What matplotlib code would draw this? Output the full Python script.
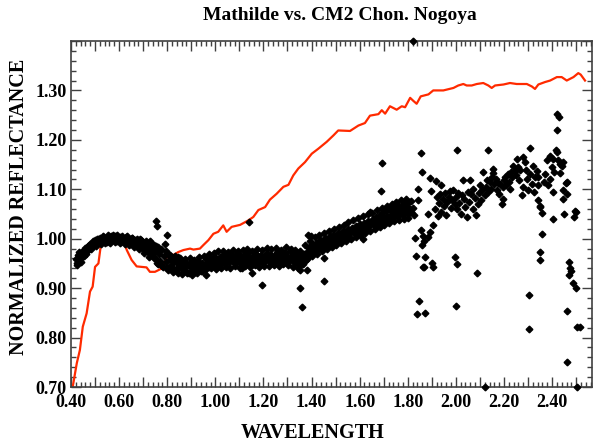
"""Mathilde vs. CM2 chondrite Nogoya -- normalized reflectance spectra."""

import matplotlib

matplotlib.use("Agg")
import matplotlib.pyplot as plt
from matplotlib.ticker import MultipleLocator

# Nogoya (CM2 chondrite) lab spectrum, red line
nogoya_wl = [
    0.407, 0.424, 0.437, 0.449, 0.465, 0.479, 0.490, 0.500, 0.514, 0.523,
    0.541, 0.569, 0.597, 0.617, 0.632, 0.652, 0.673, 0.714, 0.728, 0.749,
    0.770, 0.784, 0.798, 0.825, 0.846, 0.867, 0.895, 0.909, 0.936, 0.950,
    0.971, 0.992, 1.012, 1.033, 1.047, 1.068, 1.103, 1.137, 1.158, 1.179,
    1.207, 1.227, 1.255, 1.283, 1.304, 1.324, 1.345, 1.373, 1.401, 1.428,
    1.463, 1.491, 1.511, 1.560, 1.595, 1.622, 1.643, 1.678, 1.692, 1.706,
    1.726, 1.754, 1.775, 1.789, 1.810, 1.823, 1.837, 1.854, 1.886, 1.906,
    1.948, 1.990, 2.010, 2.031, 2.045, 2.066, 2.087, 2.114, 2.135, 2.149,
    2.163, 2.198, 2.225, 2.253, 2.295, 2.316, 2.329, 2.343, 2.371, 2.392,
    2.420, 2.440, 2.461, 2.489, 2.509, 2.519, 2.537,
]
nogoya_refl = [
    0.700, 0.748, 0.775, 0.822, 0.849, 0.893, 0.903, 0.943, 0.950, 0.983,
    0.994, 1.005, 1.000, 0.997, 0.977, 0.957, 0.944, 0.942, 0.933, 0.933,
    0.938, 0.946, 0.963, 0.967, 0.973, 0.977, 0.980, 0.978, 0.980, 0.987,
    0.997, 1.010, 1.014, 1.027, 1.014, 1.024, 1.028, 1.037, 1.044, 1.058,
    1.064, 1.079, 1.091, 1.105, 1.109, 1.128, 1.142, 1.155, 1.172, 1.182,
    1.196, 1.209, 1.219, 1.218, 1.229, 1.234, 1.249, 1.252, 1.260, 1.253,
    1.268, 1.261, 1.268, 1.266, 1.285, 1.279, 1.273, 1.288, 1.292, 1.300,
    1.300, 1.305, 1.310, 1.313, 1.310, 1.310, 1.313, 1.315, 1.310, 1.305,
    1.310, 1.312, 1.315, 1.313, 1.313, 1.308, 1.303, 1.312, 1.317, 1.320,
    1.327, 1.327, 1.320, 1.327, 1.335, 1.332, 1.320,
]

# Mathilde -- dense band 0.42-1.83 um
band_wl = [
    0.420, 0.425, 0.430, 0.435, 0.440, 0.445, 0.450, 0.455, 0.460, 0.465,
    0.470, 0.475, 0.480, 0.485, 0.490, 0.495, 0.500, 0.505, 0.510, 0.515,
    0.520, 0.525, 0.530, 0.535, 0.540, 0.545, 0.550, 0.555, 0.560, 0.565,
    0.570, 0.575, 0.580, 0.585, 0.590, 0.595, 0.600, 0.605, 0.610, 0.615,
    0.620, 0.625, 0.630, 0.635, 0.640, 0.645, 0.650, 0.655, 0.660, 0.665,
    0.670, 0.675, 0.680, 0.685, 0.690, 0.695, 0.700, 0.705, 0.710, 0.715,
    0.720, 0.725, 0.730, 0.735, 0.740, 0.745, 0.750, 0.755, 0.760, 0.765,
    0.770, 0.775, 0.780, 0.785, 0.790, 0.795, 0.800, 0.805, 0.810, 0.815,
    0.820, 0.825, 0.830, 0.835, 0.840, 0.845, 0.850, 0.855, 0.860, 0.865,
    0.870, 0.875, 0.880, 0.885, 0.890, 0.895, 0.900, 0.905, 0.910, 0.915,
    0.920, 0.925, 0.930, 0.935, 0.940, 0.945, 0.950, 0.955, 0.960, 0.965,
    0.970, 0.975, 0.980, 0.985, 0.990, 0.995, 1.000, 1.005, 1.010, 1.015,
    1.020, 1.025, 1.030, 1.035, 1.040, 1.045, 1.050, 1.055, 1.060, 1.065,
    1.070, 1.075, 1.080, 1.085, 1.090, 1.095, 1.100, 1.105, 1.110, 1.115,
    1.120, 1.125, 1.130, 1.135, 1.140, 1.145, 1.150, 1.155, 1.160, 1.165,
    1.170, 1.175, 1.180, 1.185, 1.190, 1.195, 1.200, 1.205, 1.210, 1.215,
    1.220, 1.225, 1.230, 1.235, 1.240, 1.245, 1.250, 1.255, 1.260, 1.265,
    1.270, 1.275, 1.280, 1.285, 1.290, 1.295, 1.300, 1.305, 1.310, 1.315,
    1.320, 1.325, 1.330, 1.335, 1.340, 1.345, 1.350, 1.355, 1.360, 1.365,
    1.370, 1.375, 1.380, 1.385, 1.390, 1.395, 1.400, 1.405, 1.410, 1.415,
    1.420, 1.425, 1.430, 1.435, 1.440, 1.445, 1.450, 1.455, 1.460, 1.465,
    1.470, 1.475, 1.480, 1.485, 1.490, 1.495, 1.500, 1.505, 1.510, 1.515,
    1.520, 1.525, 1.530, 1.535, 1.540, 1.545, 1.550, 1.555, 1.560, 1.565,
    1.570, 1.575, 1.580, 1.585, 1.590, 1.595, 1.600, 1.605, 1.610, 1.615,
    1.620, 1.625, 1.630, 1.635, 1.640, 1.645, 1.650, 1.655, 1.660, 1.665,
    1.670, 1.675, 1.680, 1.685, 1.690, 1.695, 1.700, 1.705, 1.710, 1.715,
    1.720, 1.725, 1.730, 1.735, 1.740, 1.745, 1.750, 1.755, 1.760, 1.765,
    1.770, 1.775, 1.780, 1.785, 1.790, 1.795, 1.800, 1.805, 1.810, 1.815,
    1.820, 1.825,
]
band_refl = [
    0.958, 0.950, 0.968, 0.955, 0.972, 0.962, 0.976, 0.966, 0.982, 0.975,
    0.986, 0.979, 0.990, 0.984, 0.994, 0.988, 0.997, 0.991, 0.999, 0.993,
    1.002, 0.995, 0.998, 1.004, 0.996, 1.001, 0.994, 1.003, 0.998, 1.005,
    0.997, 1.003, 0.999, 1.006, 0.995, 1.002, 0.998, 1.004, 0.996, 1.001,
    0.999, 0.993, 1.003, 0.996, 1.000, 0.991, 0.997, 1.002, 0.993, 0.998,
    0.989, 0.996, 0.985, 0.999, 0.990, 0.982, 0.994, 0.986, 0.977, 0.991,
    0.983, 0.972, 0.995, 0.979, 0.966, 0.988, 0.975, 0.958, 0.984, 0.969,
    0.955, 0.978, 0.945, 0.966, 0.990, 0.952, 0.940, 0.970, 0.958, 0.947,
    0.962, 0.941, 0.955, 0.936, 0.950, 0.963, 0.944, 0.957, 0.938, 0.949,
    0.942, 0.953, 0.935, 0.947, 0.931, 0.944, 0.952, 0.937, 0.946, 0.933,
    0.948, 0.938, 0.955, 0.942, 0.934, 0.951, 0.945, 0.939, 0.958, 0.947,
    0.953, 0.942, 0.960, 0.949, 0.956, 0.944, 0.962, 0.951, 0.958, 0.946,
    0.964, 0.953, 0.960, 0.970, 0.948, 0.957, 0.966, 0.952, 0.961, 0.969,
    0.955, 0.963, 0.950, 0.967, 0.958, 0.972, 0.953, 0.962, 0.947, 0.965,
    0.957, 0.968, 0.951, 0.963, 0.974, 0.956, 0.960, 0.949, 0.966, 0.958,
    0.970, 0.953, 0.962, 0.955, 0.967, 0.959, 0.950, 0.965, 0.957, 0.972,
    0.960, 0.954, 0.968, 0.962, 0.951, 0.966, 0.958, 0.973, 0.955, 0.963,
    0.969, 0.957, 0.962, 0.952, 0.971, 0.960, 0.966, 0.955, 0.975, 0.961,
    0.956, 0.968, 0.950, 0.963, 0.972, 0.958, 0.946, 0.965, 0.953, 0.960,
    0.970, 0.957, 0.965, 0.975, 0.982, 0.968, 0.990, 0.978, 0.985, 0.973,
    0.992, 0.980, 0.987, 0.998, 0.983, 0.994, 0.988, 1.002, 0.991, 0.985,
    0.997, 1.005, 0.990, 1.000, 1.008, 0.994, 1.003, 0.998, 1.011, 1.004,
    0.999, 1.009, 1.016, 1.003, 1.012, 1.007, 1.020, 1.010, 1.002, 1.015,
    1.022, 1.012, 1.018, 1.026, 1.008, 1.020, 1.030, 1.015, 1.024, 1.000,
    1.032, 1.020, 1.028, 1.036, 1.025, 1.054, 1.031, 1.040, 1.027, 1.035,
    1.043, 1.030, 1.038, 1.047, 1.034, 1.052, 1.041, 1.036, 1.056, 1.045,
    1.039, 1.060, 1.048, 1.055, 1.042, 1.063, 1.050, 1.058, 1.045, 1.066,
    1.053, 1.061, 1.048, 1.070, 1.057, 1.064, 1.051, 1.075, 1.060, 1.055,
    1.062, 1.048,
]

# Mathilde -- second pass of the band, points at its upper / lower edges
edge_wl = [
    0.423, 0.433, 0.443, 0.453, 0.463, 0.473, 0.483, 0.493, 0.503, 0.513,
    0.523, 0.533, 0.543, 0.553, 0.563, 0.573, 0.583, 0.593, 0.603, 0.613,
    0.623, 0.633, 0.643, 0.653, 0.663, 0.673, 0.683, 0.693, 0.703, 0.713,
    0.723, 0.733, 0.743, 0.753, 0.763, 0.773, 0.783, 0.793, 0.803, 0.813,
    0.823, 0.833, 0.843, 0.853, 0.863, 0.873, 0.883, 0.893, 0.903, 0.913,
    0.923, 0.933, 0.943, 0.953, 0.963, 0.973, 0.983, 0.993, 1.003, 1.013,
    1.023, 1.033, 1.043, 1.053, 1.063, 1.073, 1.083, 1.093, 1.103, 1.113,
    1.123, 1.133, 1.143, 1.153, 1.163, 1.173, 1.183, 1.193, 1.203, 1.213,
    1.223, 1.233, 1.243, 1.253, 1.263, 1.273, 1.283, 1.293, 1.303, 1.313,
    1.323, 1.333, 1.343, 1.353, 1.363, 1.373, 1.383, 1.393, 1.403, 1.413,
    1.423, 1.433, 1.443, 1.453, 1.463, 1.473, 1.483, 1.493, 1.503, 1.513,
    1.523, 1.533, 1.543, 1.553, 1.563, 1.573, 1.583, 1.593, 1.603, 1.613,
    1.623, 1.633, 1.643, 1.653, 1.663, 1.673, 1.683, 1.693, 1.703, 1.713,
    1.723, 1.733, 1.743, 1.753, 1.763, 1.773, 1.783, 1.793, 1.803, 1.813,
]
edge_refl = [
    0.946, 0.974, 0.952, 0.978, 0.970, 0.987, 0.980, 0.995, 0.985, 1.000,
    0.990, 1.006, 0.992, 1.008, 0.991, 1.007, 0.993, 1.008, 0.992, 1.006,
    0.990, 1.005, 0.987, 1.002, 0.984, 1.000, 0.980, 0.998, 0.972, 0.995,
    0.964, 0.992, 0.960, 0.985, 0.948, 0.980, 0.942, 0.975, 0.936, 0.968,
    0.932, 0.966, 0.930, 0.960, 0.928, 0.958, 0.930, 0.960, 0.927, 0.957,
    0.930, 0.962, 0.935, 0.966, 0.938, 0.970, 0.940, 0.972, 0.939, 0.975,
    0.941, 0.976, 0.943, 0.974, 0.940, 0.978, 0.944, 0.975, 0.941, 0.977,
    0.945, 0.979, 0.942, 0.976, 0.946, 0.980, 0.943, 0.977, 0.945, 0.981,
    0.944, 0.979, 0.947, 0.982, 0.945, 0.978, 0.948, 0.983, 0.946, 0.980,
    0.942, 0.978, 0.940, 0.975, 0.948, 0.987, 0.958, 0.996, 0.965, 1.004,
    0.970, 1.008, 0.975, 1.012, 0.980, 1.016, 0.984, 1.020, 0.988, 1.024,
    0.992, 1.028, 0.996, 1.033, 1.000, 1.037, 1.004, 1.041, 1.008, 1.045,
    1.012, 1.049, 1.016, 1.053, 1.020, 1.058, 1.024, 1.062, 1.028, 1.066,
    1.032, 1.070, 1.035, 1.074, 1.038, 1.078, 1.040, 1.080, 1.042, 1.076,
]

# Mathilde -- stray points off the visible band
stray_wl = [
    0.755, 0.758, 0.800, 0.756, 0.962, 1.110, 1.151, 1.141, 1.195, 1.352,
    1.359, 1.380, 1.352, 1.397, 1.387, 1.453, 1.450, 1.694, 1.689, 1.823,
]
stray_refl = [
    1.035, 1.026, 1.007, 0.951, 0.926, 0.940, 0.930, 1.034, 0.907, 0.901,
    0.862, 0.936, 0.936, 1.005, 1.007, 0.960, 0.914, 1.153, 1.096, 1.400,
]

# Mathilde -- noisy near-infrared end, 1.83-2.52 um
nir_wl = [
    1.830, 1.833, 1.837, 1.842, 1.844, 1.847, 1.855, 1.858, 1.855, 1.861,
    1.865, 1.868, 1.872, 1.872, 1.865, 1.868, 1.883, 1.886, 1.893, 1.893,
    1.897, 1.901, 1.904, 1.906, 1.916, 1.938, 1.915, 1.920, 1.925, 1.930,
    1.935, 1.940, 1.945, 1.950, 1.955, 1.960, 1.965, 1.970, 1.975, 1.980,
    1.985, 1.990, 1.995, 1.997, 2.003, 2.000, 2.006, 2.000, 2.005, 2.010,
    2.015, 2.020, 2.025, 2.031, 2.035, 2.040, 2.045, 2.050, 2.055, 2.059,
    2.065, 2.070, 2.073, 2.080, 2.084, 2.087, 2.090, 2.095, 2.100, 2.105,
    2.110, 2.114, 2.120, 2.121, 2.125, 2.130, 2.132, 2.135, 2.142, 2.145,
    2.150, 2.153, 2.156, 2.160, 2.165, 2.170, 2.175, 2.180, 2.184, 2.190,
    2.195, 2.198, 2.200, 2.205, 2.210, 2.215, 2.220, 2.225, 2.230, 2.235,
    2.239, 2.245, 2.250, 2.253, 2.258, 2.262, 2.268, 2.274, 2.278, 2.281,
    2.288, 2.292, 2.295, 2.302, 2.306, 2.306, 2.308, 2.310, 2.315, 2.320,
    2.325, 2.330, 2.336, 2.343, 2.343, 2.343, 2.350, 2.350, 2.357, 2.360,
    2.350, 2.350, 2.365, 2.372, 2.378, 2.385, 2.392, 2.392, 2.398, 2.403,
    2.405, 2.405, 2.410, 2.417, 2.420, 2.420, 2.429, 2.420, 2.425, 2.433,
    2.433, 2.440, 2.447, 2.447, 2.447, 2.451, 2.458, 2.461, 2.461, 2.461,
    2.464, 2.471, 2.475, 2.471, 2.478, 2.485, 2.493, 2.497, 2.500, 2.500,
    2.505, 2.515, 2.505,
]
nir_refl = [
    1.002, 0.965, 0.847, 1.078, 1.100, 0.874, 1.173, 1.135, 1.018, 0.987,
    0.943, 0.942, 0.962, 0.849, 1.005, 0.995, 1.051, 1.004, 1.014, 1.123,
    1.097, 0.950, 0.942, 1.027, 1.117, 1.108, 1.060, 1.085, 1.045, 1.072,
    1.090, 1.055, 1.080, 1.066, 1.092, 1.048, 1.075, 1.085, 1.097, 1.062,
    1.078, 1.098, 1.070, 0.963, 0.948, 0.864, 1.180, 1.085, 1.060, 1.092,
    1.072, 1.050, 1.088, 1.118, 1.080, 1.065, 1.043, 1.095, 1.075, 1.118,
    1.090, 1.060, 1.101, 1.082, 1.047, 0.931, 1.070, 1.092, 1.108, 1.078,
    1.098, 1.135, 1.088, 0.700, 1.105, 1.118, 1.179, 1.095, 1.115, 1.100,
    1.125, 1.142, 1.132, 1.110, 1.120, 1.098, 1.112, 1.090, 1.111, 1.071,
    1.105, 1.080, 1.118, 1.125, 1.108, 1.130, 1.115, 1.100, 1.135, 1.125,
    1.148, 1.138, 1.128, 1.162, 1.145, 1.118, 1.140, 1.088, 1.105, 1.165,
    1.155, 1.140, 1.121, 1.098, 0.887, 0.817, 1.183, 1.130, 1.110, 1.148,
    1.095, 1.125, 1.138, 1.125, 1.108, 1.078, 1.067, 1.064, 1.010, 1.052,
    0.973, 0.957, 1.115, 1.130, 1.159, 1.108, 1.168, 1.121, 1.145, 1.039,
    1.162, 1.095, 1.135, 1.179, 1.175, 1.253, 1.246, 1.219, 1.160, 1.152,
    1.132, 1.148, 1.155, 1.098, 1.080, 1.051, 1.113, 1.115, 1.091, 0.854,
    0.751, 0.953, 0.940, 0.926, 0.935, 0.911, 1.043, 1.057, 1.054, 0.901,
    0.822, 0.822, 0.700,
]

RED = "#ff2a00"
AXIS = "#404040"

plt.rcParams["font.family"] = ["Liberation Serif", "DejaVu Serif"]
plt.rcParams["font.weight"] = "bold"

fig = plt.figure(figsize=(5.93, 4.45), dpi=100)
ax = fig.add_axes([71 / 593, 1 - 387 / 445, 521 / 593, 346 / 445])

ax.plot(nogoya_wl, nogoya_refl, color=RED, linewidth=1.6, zorder=2)
for xs, ys in ((band_wl, band_refl), (edge_wl, edge_refl),
               (stray_wl, stray_refl), (nir_wl, nir_refl)):
    ax.plot(xs, ys, linestyle="none", marker="D", markersize=3.4,
            color="black", clip_on=False, zorder=3)

ax.set_xlim(0.40, 2.566)
ax.set_ylim(0.70, 1.40)

ax.xaxis.set_major_locator(MultipleLocator(0.1))
ax.xaxis.set_minor_locator(MultipleLocator(0.02))
ax.yaxis.set_major_locator(MultipleLocator(0.1))
ax.yaxis.set_minor_locator(MultipleLocator(0.02))
ax.xaxis.set_major_formatter(
    lambda v, pos: f"{v:.2f}" if round(v * 10) % 2 == 0 and v < 2.45 else "")
ax.yaxis.set_major_formatter(
    lambda v, pos: f"{v:.2f}" if v < 1.35 else "")

ax.tick_params(which="both", direction="in", top=True, right=True,
               color=AXIS, width=1.0, labelsize=13)
ax.tick_params(which="major", length=7)
ax.tick_params(which="minor", length=3.5)
ax.tick_params(axis="x", pad=5)
ax.tick_params(axis="y", pad=3)
for spine in ax.spines.values():
    spine.set_color(AXIS)
    spine.set_linewidth(1.2)

ax.set_xlabel("WAVELENGTH", fontsize=14.5, fontweight="bold")
ax.xaxis.set_label_coords(0.464, -0.105)
ax.set_ylabel("NORMALIZED REFLECTANCE", fontsize=14.5, fontweight="bold")
ax.yaxis.set_label_coords(-0.080, 0.52)

fig.text(340 / 593, 1 - 16 / 445, "Mathilde vs. CM2 Chon. Nogoya",
         ha="center", va="center", fontsize=14, fontweight="bold")

fig.savefig("out.png", dpi=100)
